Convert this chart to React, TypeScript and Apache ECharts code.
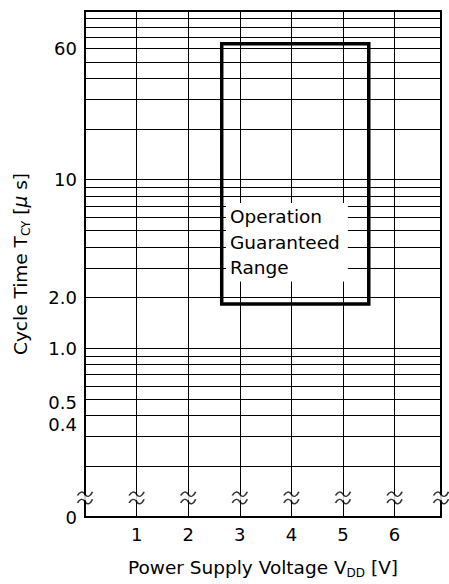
import React, { useEffect, useRef } from "react";
import * as echarts from "echarts";

// ---- data ----
const voltageMin = 0;
const voltageMax = 6.9;
const voltageTicks = [1, 2, 3, 4, 5, 6];
const cycleMin = 0.1; // drawn as "0" (axis break)
const cycleMax = 100;
const cycleGridValues = [
  0.2, 0.3, 0.4, 0.5, 0.6, 0.7, 0.8, 0.9,
  1, 2, 3, 4, 5, 6, 7, 8, 9,
  10, 20, 30, 40, 50, 60, 70, 80, 90,
];
const cycleLabelValues = [0.1, 0.4, 0.5, 1, 2, 10, 60];
const cycleLabelTexts = ["0", "0.4", "0.5", "1.0", "2.0", "10", "60"];
const rangeVoltage = [2.65, 5.5];
const rangeCycle = [1.83, 64];
const breakVoltages = [0, 1, 2, 3, 4, 5, 6, 6.9];
const breakCycle = 0.13;

const FONT = '"DejaVu Sans", "Liberation Sans", sans-serif';
const L = (v: number) => Math.log10(v);

export default function App() {
  const ref = useRef<HTMLDivElement>(null);
  useEffect(() => {
    document.body.style.margin = "0";
    if (!ref.current) return;
    const chart = echarts.init(ref.current, null, { renderer: "svg" });
    const rectData = [
      [rangeVoltage[0], L(rangeCycle[0])],
      [rangeVoltage[0], L(rangeCycle[1])],
      [rangeVoltage[1], L(rangeCycle[1])],
      [rangeVoltage[1], L(rangeCycle[0])],
      [rangeVoltage[0], L(rangeCycle[0])],
    ];
    const breakData = breakVoltages.map((v) => [v, L(breakCycle)]);
    const rich = {
      sub: { fontSize: 12, fontFamily: FONT, color: "#000", verticalAlign: "bottom", lineHeight: 16 },
      mu: { fontSize: 18.5, fontFamily: FONT, color: "#000", fontStyle: "italic", lineHeight: 24 },
    };
    const labelRich = {
      d3: { fontSize: 18, fontFamily: FONT, color: "#000", padding: [6, 0, 0, 0] },
      d9: { fontSize: 18, fontFamily: FONT, color: "#000", padding: [18, 0, 0, 0] },
    };
    chart.setOption({
      animation: false,
      backgroundColor: "#fff",
      grid: {
        left: 80,
        right: 8,
        top: 11,
        bottom: 66.5,
        show: true,
        borderColor: "#000",
        borderWidth: 2,
        backgroundColor: "transparent",
      },
      xAxis: {
        type: "value",
        min: voltageMin,
        max: voltageMax,
        axisLine: { show: false },
        axisTick: { show: false, customValues: voltageTicks },
        splitLine: { show: true, lineStyle: { color: "#000", width: 1 } },
        axisLabel: {
          customValues: voltageTicks,
          color: "#000",
          fontSize: 18,
          fontFamily: FONT,
          margin: 8,
        },
        name: "Power Supply Voltage V{sub|DD} [V]",
        nameLocation: "middle",
        nameGap: 38,
        nameTextStyle: { color: "#000", fontSize: 18.5, fontFamily: FONT, lineHeight: 24, rich },
      },
      yAxis: {
        type: "value",
        min: L(cycleMin),
        max: L(cycleMax),
        axisLine: { show: false },
        axisTick: { show: false, customValues: cycleGridValues.map(L) },
        splitLine: { show: true, lineStyle: { color: "#000", width: 1 } },
        axisLabel: {
          customValues: cycleLabelValues.map(L),
          color: "#000",
          fontSize: 18,
          fontFamily: FONT,
          margin: 8,
          rich: labelRich,
          formatter: (v: number) => {
            const i = cycleLabelValues.findIndex((c) => Math.abs(L(c) - v) < 1e-6);
            if (i < 0) return "";
            const t = cycleLabelTexts[i];
            if (t === "0.5") return `{d3|${t}}`;
            if (t === "0.4") return `{d9|${t}}`;
            return t;
          },
        },
        name: "Cycle Time T{sub|CY} [{mu|μ} s]",
        nameLocation: "middle",
        nameGap: 53,
        nameRotate: 90,
        nameTextStyle: { color: "#000", fontSize: 18.5, fontFamily: FONT, lineHeight: 24, rich },
      },
      series: [
        {
          type: "line",
          data: rectData,
          symbol: "none",
          lineStyle: { color: "#000", width: 3.5, join: "miter", cap: "square" },
          z: 3,
          silent: true,
        },
        {
          type: "scatter",
          data: breakData,
          symbol: "rect",
          symbolSize: [8, 5],
          itemStyle: { color: "#fff" },
          clip: false,
          z: 4,
          silent: true,
        },
        {
          type: "scatter",
          data: breakData,
          symbol:
            "path://M0,5 C2,2 5,1 7,4 C9,7 12,6 14,2 M0,11 C2,8 5,7 7,10 C9,13 12,12 14,8",
          symbolSize: [15, 12],
          itemStyle: { color: "none", borderColor: "#000", borderWidth: 1.5 },
          clip: false,
          z: 5,
          silent: true,
        },
      ],
      graphic: [
        {
          type: "text",
          left: 226,
          top: 203,
          z: 10,
          style: {
            text: "Operation\nGuaranteed\nRange",
            font: `18.5px ${FONT}`,
            fill: "#000",
            lineHeight: 25.5,
            backgroundColor: "#fff",
            padding: [1, 8, 1, 4],
          },
        },
      ],
    });
    return () => chart.dispose();
  }, []);
  return <div ref={ref} style={{ width: 449, height: 584 }} />;
}
